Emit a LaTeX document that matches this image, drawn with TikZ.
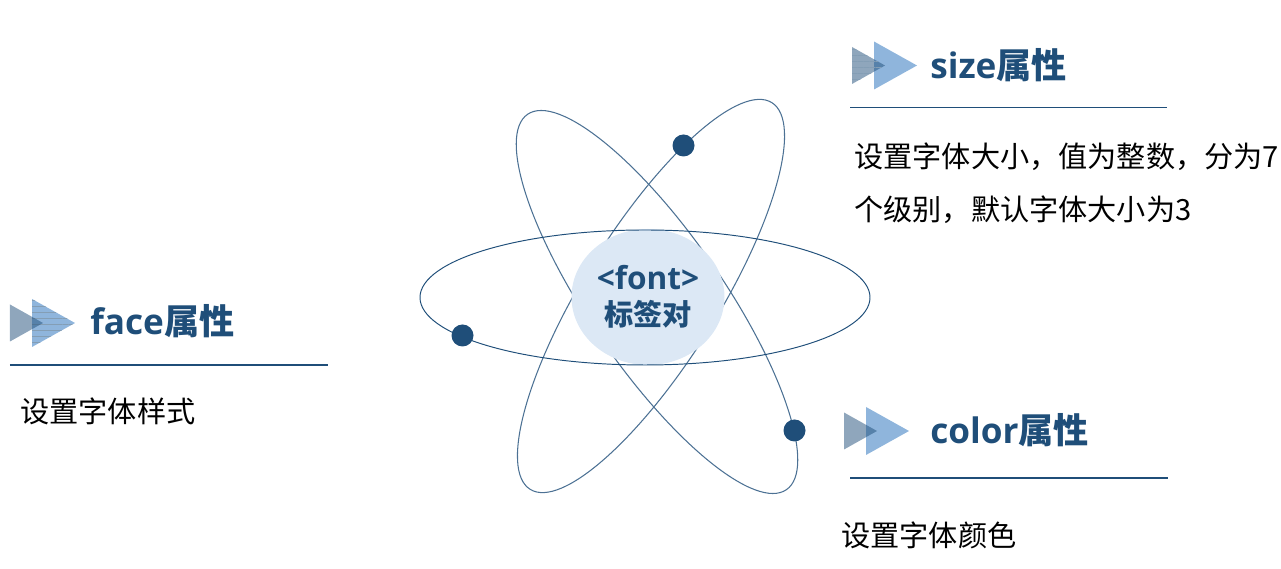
\documentclass[tikz,border=0pt]{standalone}
\usepackage{fontspec}
\setmainfont{Open Sans}
\newfontfamily\cjk{Noto Sans CJK SC}
\usetikzlibrary{shapes.geometric, patterns.meta}
\definecolor{navy}{HTML}{1F4E79}
\definecolor{discblue}{HTML}{DCE8F5}
\definecolor{fronttri}{HTML}{8FB5DC}
\newcommand{\widecomma}{\char"FF0C\relax}
\tikzset{
    orbit/.style={draw=navy, line width=0.55pt},
    tilted/.style={draw=navy!80, line width=0.6pt},
    electron/.style={circle, fill=navy, inner sep=0pt, minimum size=0.44cm},
    heading/.style={anchor=west, inner sep=0pt, text=navy, font=\fontsize{20}{24}\selectfont\bfseries},
    bodytext/.style={anchor=west, inner sep=0pt, text=black, font=\cjk\fontsize{16.6}{20}\selectfont},
    rulerline/.style={navy, line width=0.8pt},
    stripes/.style={pattern={Lines[angle=0, distance=3.4pt, line width=0.3pt]}, pattern color=navy!55},
    backmark/.style={fill=navy, opacity=0.5},
    frontmark/.style={fill=fronttri},
    pics/playmark/.style n args={2}{code={
        \fill[frontmark] (0.44,0.48) -- (1.3,0) -- (0.44,-0.48) -- cycle;
        \fill[#2] (0.44,0.48) -- (1.3,0) -- (0.44,-0.48) -- cycle;
        \fill[backmark] (0,0.37) -- (0.66,0) -- (0,-0.37) -- cycle;
        \fill[#1] (0,0.37) -- (0.66,0) -- (0,-0.37) -- cycle;
    }},
}
\begin{document}
\begin{tikzpicture}
\useasboundingbox (0,0) rectangle (25.62,11.38);

% orbits
\draw[tilted, rotate around={58:(13.02,5.46)}] (13.02,5.46) ellipse (4.56 and 1.34);
\draw[tilted, rotate around={-55.4:(13.14,5.34)}] (13.14,5.34) ellipse (4.56 and 1.34);
\node[ellipse, fill=discblue, minimum width=3.06cm, minimum height=2.72cm, inner sep=0pt, align=center,
    text=navy, font=\fontsize{16.6}{20.5}\selectfont\bfseries] (font) at (12.96,5.44) {{\fontsize{18}{20.5}\selectfont <font>}\\{\cjk 标签对}};
\draw[orbit] (12.9,5.43) ellipse (4.5 and 1.35);
\node[electron] (dottop) at (13.67,8.47) {};
\node[electron] (dotleft) at (9.25,4.67) {};
\node[electron] (dotright) at (15.89,2.77) {};

% size
\pic at (17.04,10.07) {playmark={stripes}{fill=none}};
\node[heading] (sizehead) at (18.6,10.07) {size{\cjk 属性}};
\draw[rulerline] (17.0,9.23) -- (23.34,9.23);
\node[bodytext] (sizeone) at (17.08,8.24) {设置字体大小\widecomma 值为整数\widecomma 分为7};
\node[bodytext] (sizetwo) at (17.08,7.18) {个级别\widecomma 默认字体大小为3};

% face
\pic at (0.2,4.92) {playmark={fill=none}{stripes}};
\node[heading] (facehead) at (1.8,4.96) {face{\cjk 属性}};
\draw[rulerline] (0.2,4.08) -- (6.56,4.08);
\node[bodytext] (facetext) at (0.4,3.16) {设置字体样式};

% color
\pic at (16.88,2.76) {playmark={fill=none}{fill=none}};
\node[heading] (colorhead) at (18.6,2.78) {color{\cjk 属性}};
\draw[rulerline] (17.0,1.82) -- (23.36,1.82);
\node[bodytext] (colortext) at (16.82,0.68) {设置字体颜色};
\end{tikzpicture}
\end{document}
